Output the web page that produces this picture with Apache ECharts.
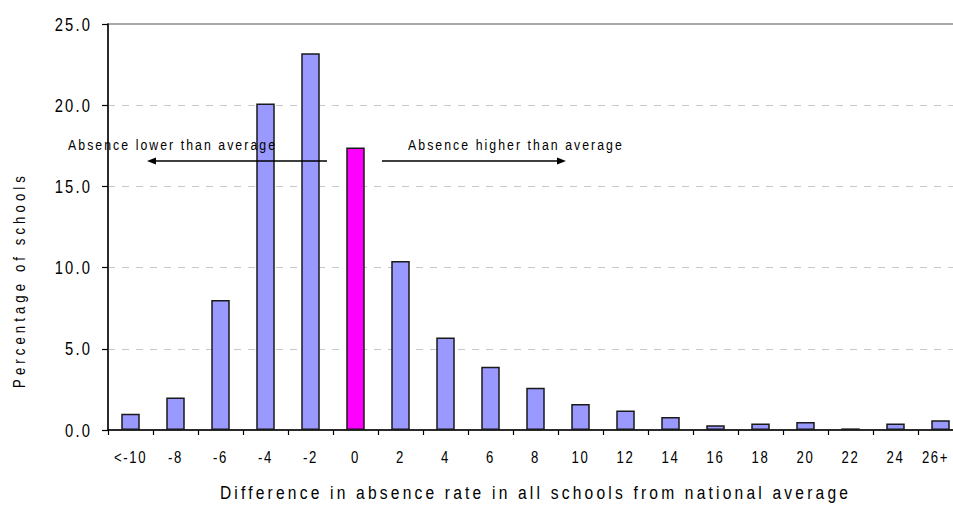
<!DOCTYPE html>
<html>
<head>
<meta charset="utf-8">
<script src="https://cdn.jsdelivr.net/npm/echarts@6/dist/echarts.min.js"></script>
<style>
  html, body { margin: 0; padding: 0; background: #fff; }
  #chart { width: 953px; height: 506px; }
</style>
</head>
<body>
<div id="chart"></div>
<script>
// Percentage of schools by difference in absence rate from the national average
const categories = ['<-10', '-8', '-6', '-4', '-2', '0', '2', '4', '6', '8', '10', '12', '14', '16', '18', '20', '22', '24', '26+'];
const percentages = [1.0, 2.0, 8.0, 20.1, 23.2, 17.4, 10.4, 5.7, 3.9, 2.6, 1.6, 1.2, 0.8, 0.3, 0.4, 0.5, 0.1, 0.4, 0.6];
const averageCategory = '0';
const yTicks = [0, 5, 10, 15, 20, 25];

const X_TITLE = 'Difference in absence rate in all schools from national average';
const Y_TITLE = 'Percentage of schools';
const LOWER_NOTE = 'Absence lower than average';
const HIGHER_NOTE = 'Absence higher than average';

const FONT = "'Liberation Sans', Arial, sans-serif";
const BAR_COLOR = '#9999FF';
const AVERAGE_COLOR = '#FF00FF';

// narrow, widely tracked lettering
const CONDENSE = 0.82;
function trackingFor(text) {
  if (text === X_TITLE) return 3.9;
  if (text === Y_TITLE) return 5.0;
  if (text === LOWER_NOTE || text === HIGHER_NOTE) return 2.5;
  if (categories.includes(text)) return 2.0;
  return 2.6;
}

const chart = echarts.init(document.getElementById('chart'), null, { renderer: 'svg' });

const barData = percentages.map((v, i) => ({
  value: v,
  itemStyle: { color: categories[i] === averageCategory ? AVERAGE_COLOR : BAR_COLOR }
}));

// the last label is nudged inward so it stays on the page
const categoryData = categories.map((c, i) =>
  i === categories.length - 1 ? { value: c, textStyle: { padding: [0, 10, 0, 0] } } : c);

// horizontal arrow with a filled head
function arrow(x1, x2, y) {
  const dir = Math.sign(x2 - x1);
  const head = 9, half = 3.5;
  return [
    { type: 'line', shape: { x1: x1, y1: y, x2: x2 - dir * head * 0.6, y2: y },
      style: { stroke: '#000', lineWidth: 1.5 }, z: 10 },
    { type: 'polygon', shape: { points: [[x2, y], [x2 - dir * head, y - half], [x2 - dir * head, y + half]] },
      style: { fill: '#000' }, z: 10 }
  ];
}

chart.setOption({
  animation: false,
  backgroundColor: '#fff',
  textStyle: { fontFamily: FONT, color: '#000' },
  grid: {
    left: 108, top: 24, width: 855, height: 406,
    outerBoundsMode: 'none',
    containLabel: false,
    show: true, borderColor: '#8f8f8f', borderWidth: 1.5, backgroundColor: 'transparent'
  },
  xAxis: {
    type: 'category',
    data: categoryData,
    boundaryGap: true,
    name: X_TITLE,
    nameLocation: 'middle',
    nameGap: 53,
    nameTextStyle: { fontFamily: FONT, fontSize: 19, color: '#000' },
    axisLine: { lineStyle: { color: '#000', width: 1.5 } },
    axisTick: { show: true, alignWithLabel: false, length: 5, lineStyle: { color: '#000', width: 1.2 } },
    axisLabel: { fontFamily: FONT, fontSize: 16, color: '#000', margin: 20, interval: 0 },
    splitLine: { show: false }
  },
  yAxis: {
    type: 'value',
    min: yTicks[0],
    max: yTicks[yTicks.length - 1],
    interval: 5,
    axisLine: { show: true, lineStyle: { color: '#000', width: 1.5 } },
    axisTick: { show: true, length: 6, lineStyle: { color: '#000', width: 1.2 } },
    axisLabel: {
      fontFamily: FONT, fontSize: 18, color: '#000', margin: 16,
      formatter: v => v.toFixed(1)
    },
    splitLine: {
      show: true,
      lineStyle: {
        color: ['transparent', '#c8c8c8', '#c8c8c8', '#c8c8c8', '#c8c8c8', 'transparent'],
        type: [7, 7], width: 1
      }
    }
  },
  series: [{
    type: 'bar',
    data: barData,
    barWidth: 18.5,
    itemStyle: { borderColor: '#1a1a1a', borderWidth: 1.5 },
    z: 5
  }],
  graphic: [
    {
      type: 'text', x: 20, y: 280, rotation: Math.PI / 2,
      style: { text: Y_TITLE, fontFamily: FONT, fontSize: 16, fill: '#000',
               align: 'center', verticalAlign: 'middle' }
    },
    {
      type: 'text', x: 68, y: 145, z: 10,
      style: { text: LOWER_NOTE, fontFamily: FONT, fontSize: 15, fill: '#000',
               align: 'left', verticalAlign: 'middle' }
    },
    {
      type: 'text', x: 408, y: 145, z: 10,
      style: { text: HIGHER_NOTE, fontFamily: FONT, fontSize: 15, fill: '#000',
               align: 'left', verticalAlign: 'middle' }
    },
    ...arrow(327, 147, 161),
    ...arrow(382, 566, 161)
  ]
});

// squeeze every text horizontally about its own anchor and open up the tracking
function condenseText() {
  document.querySelectorAll('#chart svg text').forEach(el => {
    if (el.getAttribute('data-condensed')) return;
    const x = parseFloat(el.getAttribute('x') || 0);
    const y = parseFloat(el.getAttribute('y') || 0);
    const t = el.getAttribute('transform') || '';
    el.setAttribute('transform',
      `${t} translate(${x} ${y}) scale(${CONDENSE} 1) translate(${-x} ${-y})`.trim());
    el.style.letterSpacing = trackingFor(el.textContent) + 'px';
    el.setAttribute('data-condensed', '1');
  });
}
chart.on('finished', condenseText);
condenseText();
setTimeout(condenseText, 0);
requestAnimationFrame(condenseText);
</script>
</body>
</html>
